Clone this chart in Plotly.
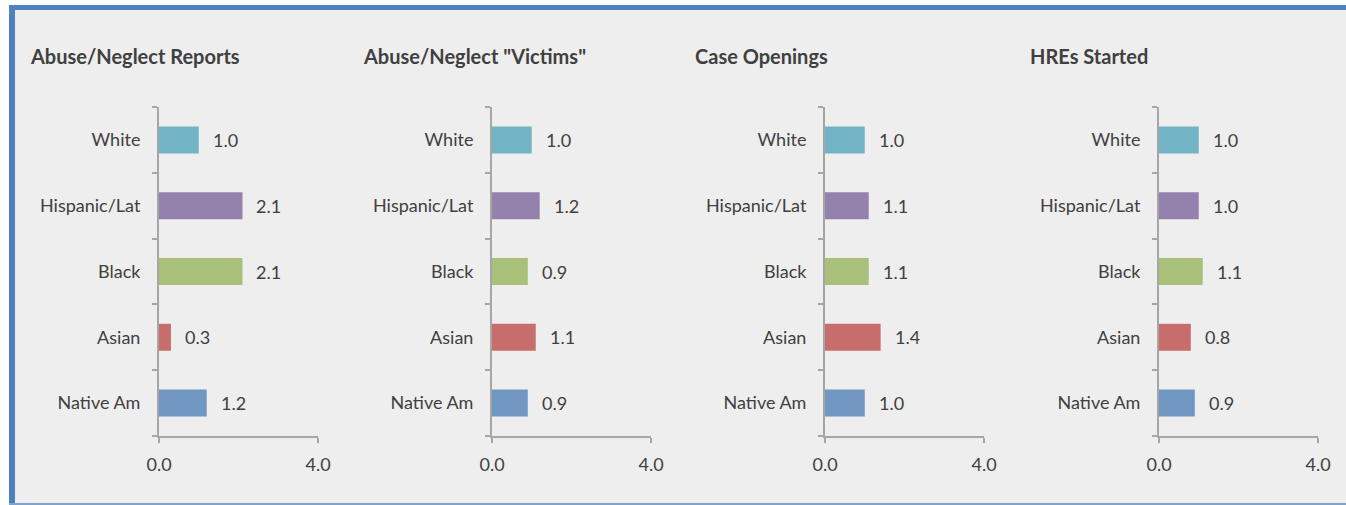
import plotly.graph_objects as go

W, H = 1346, 505

categories = ["White", "Hispanic/Lat", "Black", "Asian", "Native Am"]
bar_colors = ["#72B4C6", "#9581AE", "#A9C078", "#C76E6C", "#7096C2"]

titles = ["Abuse/Neglect Reports", 'Abuse/Neglect "Victims"', "Case Openings", "HREs Started"]
reports = [1.0, 2.1, 2.1, 0.3, 1.2]
victims = [1.0, 1.2, 0.9, 1.1, 0.9]
openings = [1.0, 1.1, 1.1, 1.4, 1.0]
hres = [1.0, 1.0, 1.1, 0.8, 0.9]
series = [reports, victims, openings, hres]

x_ticks = [0, 4]
x_ticktext = ["0.0", "4.0"]

# layout in pixels (margins are zero, so paper == page)
zero_px = [159, 492, 825, 1159]
four_px = [318, 651, 984, 1318]
title_px = [28, 361, 693, 1028]
y_top_px, y_bot_px = 107, 436

FONT = "Lato"
TXT = "#404040"

fig = go.Figure()
annotations = []
for i, vals in enumerate(series):
    n = "" if i == 0 else str(i + 1)
    fig.add_trace(go.Bar(
        x=vals, y=categories, orientation="h",
        marker=dict(color=bar_colors, line=dict(width=0)),
        xaxis="x" + n, yaxis="y" + n, showlegend=False,
        hoverinfo="x+y",
    ))
    fig.update_layout(**{
        "xaxis" + n: dict(
            domain=[zero_px[i] / W, four_px[i] / W], range=[0, 4],
            anchor="y" + n, tickvals=x_ticks, ticktext=x_ticktext,
            showgrid=False, zeroline=False, showline=True, linecolor="#A6A6A6",
            linewidth=2, ticks="outside", ticklen=5, tickwidth=2, tickcolor="#A6A6A6",
            ticklabelstandoff=6, fixedrange=True, automargin=False,
            tickfont=dict(family=FONT, size=18, color=TXT),
        ),
        "yaxis" + n: dict(
            domain=[1 - y_bot_px / H, 1 - y_top_px / H], anchor="x" + n,
            type="category", categoryorder="array",
            categoryarray=list(reversed(categories)),
            showgrid=False, zeroline=False, showline=True, linecolor="#A6A6A6",
            linewidth=2, ticks="outside", ticklen=5, tickwidth=2, tickcolor="#A6A6A6",
            tickson="boundaries", ticklabelstandoff=13, fixedrange=True, automargin=False,
            tickfont=dict(family=FONT, size=18, color=TXT),
        ),
    })
    for c, v in zip(categories, vals):
        annotations.append(dict(
            x=v, y=c, xref="x" + n, yref="y" + n, text=f"{v:.1f}",
            showarrow=False, xanchor="left", yanchor="middle", xshift=12,
            font=dict(family=FONT, size=18, color=TXT),
        ))
    annotations.append(dict(
        x=title_px[i] / W, y=1 - 56 / H, xref="paper", yref="paper",
        text="<b>" + titles[i] + "</b>", showarrow=False,
        xanchor="left", yanchor="middle",
        font=dict(family=FONT, size=20, color="#404040"),
    ))

shapes = [
    # panel background
    dict(type="rect", xref="paper", yref="paper", x0=14 / W, x1=1, y0=1 - 503 / H, y1=1 - 9 / H,
         fillcolor="#EEEEEE", line=dict(width=0), layer="below"),
    # top border
    dict(type="rect", xref="paper", yref="paper", x0=9 / W, x1=1, y0=1 - 10 / H, y1=1 - 5 / H,
         fillcolor="#4F81BD", line=dict(width=0), layer="below"),
    # left border
    dict(type="rect", xref="paper", yref="paper", x0=9 / W, x1=15 / W, y0=0, y1=1 - 5 / H,
         fillcolor="#4F81BD", line=dict(width=0), layer="below"),
    # bottom line
    dict(type="rect", xref="paper", yref="paper", x0=9 / W, x1=1, y0=0, y1=2 / H,
         fillcolor="#7FA2CF", line=dict(width=0), layer="below"),
]

fig.update_layout(
    width=W, height=H,
    margin=dict(l=0, r=0, t=0, b=0, pad=0),
    paper_bgcolor="white", plot_bgcolor="rgba(0,0,0,0)",
    bargap=0.59,
    annotations=annotations, shapes=shapes,
    font=dict(family=FONT, color=TXT),
)

fig.write_html(
    "out.html",
    config={"displayModeBar": False},
    post_script="document.body.style.margin='0';document.body.style.overflow='hidden';",
)
